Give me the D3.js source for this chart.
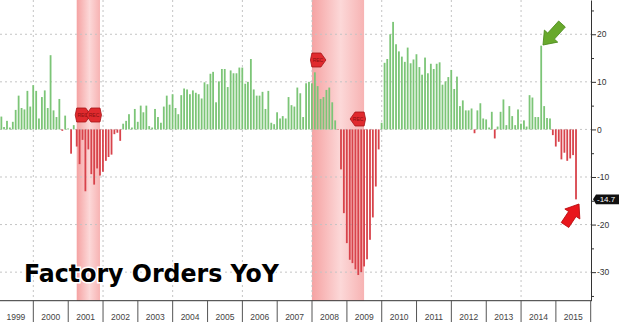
<!DOCTYPE html>
<html>
<head>
<meta charset="utf-8">
<script src="https://cdn.jsdelivr.net/npm/d3@7"></script>
<style>
body { margin: 0; background: #fff; }
svg { display: block; }
</style>
</head>
<body>
<script>
var width = 620, height = 322;

// factory orders, % change YoY, monthly from Jan 1999 to Jul 2015
var startYear = 1999;
var values = [
  2.7, 0.5, 1.8, 0.4, 1.6, 4.1, 7.1, 4.5, 4.2, 8.1, 4.8, 9.3,
  8.1, 2.3, 6.8, 8.2, 4.5, 15.6, 4.0, 2.6, 6.4, -0.3, 2.9, 0.2,
  -5.1, 0.9, -3.6, -7.3, -2.2, -13.0, -4.2, -9.4, -11.6, -8.2, -9.7, -8.9,
  -6.6, -5.8, -5.3, -1.0, -0.7, -2.4, 1.2, 1.8, 3.2, 0.4, 4.3, 1.6,
  5.0, 3.6, 5.0, 0.7, 0.4, 4.3, 2.6, 1.4, 4.8, 7.1, 5.2, 7.4,
  4.5, 3.2, 7.2, 8.6, 8.4, 7.4, 8.2, 7.7, 7.4, 6.5, 9.9, 9.5,
  11.7, 12.1, 5.7, 10.1, 12.7, 12.7, 8.9, 12.4, 11.8, 11.8, 13.0, 13.0,
  9.6, 10.0, 14.8, 8.4, 7.1, 7.1, 7.9, 4.3, 8.1, 1.4, 1.1, 3.6,
  2.3, 2.8, 2.3, 6.8, 5.1, 4.8, 8.8, 7.6, 2.6, 9.7, 10.0, 9.7,
  12.0, 9.1, 6.4, 6.8, 8.3, 8.8, 5.7, 1.9, -0.1, -8.4, -17.6, -23.9,
  -27.4, -28.1, -29.4, -30.6, -30.0, -28.8, -27.3, -23.2, -18.5, -12.0, -4.2, 1.4,
  14.0, 14.8, 20.0, 22.6, 17.9, 16.4, 15.3, 14.2, 17.2, 13.9, 14.7, 15.8,
  13.1, 11.5, 15.1, 11.8, 13.8, 12.7, 13.8, 14.1, 9.4, 10.1, 11.0, 12.5,
  8.5, 11.1, 4.9, 6.1, 4.0, 4.0, 4.4, -0.8, 4.0, 5.5, 2.3, 2.1,
  0.4, 3.7, -1.9, 0.6, 3.7, 6.3, 0.9, 4.9, 2.8, 0.9, 4.2, 1.2,
  1.9, 0.6, 7.2, 6.7, 2.6, 2.6, 17.6, 4.9, 2.4, 2.3, -1.2, -3.6,
  -2.6, -6.3, -4.9, -6.6, -6.1, -5.4, -14.7
];
var years = d3.range(1999, 2016);
var yTicks = [20, 10, 0, -10, -20, -30];
var yMinor = [25, 15, 5, -5, -15, -25, -35];
var recessions = [["2001-03-31", "2001-11-30"], ["2007-12-31", "2009-06-30"]];
var title = "Factory Orders YoY";

var parse = d3.timeParse("%Y-%m-%d");
var data = values.map(function(v, i) {
  return {date: new Date(startYear, i + 1, 0), value: v};
});
var last = data[data.length - 1];

var x = d3.scaleTime()
  .domain([new Date(1999, 0, 1), new Date(2016, 0, 1)])
  .range([-1.5, 590.7]);
var y = d3.scaleLinear().domain([-36, 27.2]).range([300.7, 0]);

var svg = d3.select("body").append("svg")
  .attr("width", width)
  .attr("height", height)
  .style("font-family", "'Liberation Sans', Arial, sans-serif");

var defs = svg.append("defs");
var grad = defs.append("linearGradient").attr("id", "rec")
  .attr("x1", "0%").attr("x2", "100%").attr("y1", "0%").attr("y2", "0%");
grad.append("stop").attr("offset", "0%").attr("stop-color", "#f5a2a2");
grad.append("stop").attr("offset", "55%").attr("stop-color", "#fcd8d8");
grad.append("stop").attr("offset", "100%").attr("stop-color", "#f7b3b3");

// recession shading
svg.append("g").selectAll("rect")
  .data(recessions)
  .enter().append("rect")
    .attr("x", function(d) { return x(parse(d[0])); })
    .attr("width", function(d) { return x(parse(d[1])) - x(parse(d[0])); })
    .attr("y", 0)
    .attr("height", y(-36))
    .attr("fill", "url(#rec)");

// grid
var grid = svg.append("g")
  .attr("stroke", "#c4c4c4")
  .attr("stroke-dasharray", "2,3");
grid.selectAll(".h")
  .data(yTicks)
  .enter().append("line")
    .attr("x1", 0).attr("x2", 591)
    .attr("y1", function(d) { return y(d); })
    .attr("y2", function(d) { return y(d); });
grid.selectAll(".v")
  .data(d3.range(2000, 2016, 2))
  .enter().append("line")
    .attr("x1", function(d) { return x(new Date(d, 0, 1)); })
    .attr("x2", function(d) { return x(new Date(d, 0, 1)); })
    .attr("y1", 0).attr("y2", y(-36));

// bars
svg.append("g").selectAll("rect")
  .data(data)
  .enter().append("rect")
    .attr("x", function(d) { return x(d.date) - 0.9; })
    .attr("width", 1.8)
    .attr("y", function(d) { return y(Math.max(0, d.value)); })
    .attr("height", function(d) { return Math.abs(y(d.value) - y(0)); })
    .attr("fill", function(d) { return d.value >= 0 ? "#7cc577" : "#d8434b"; });

// recession markers
function marker(xp, yp, dir) {
  var w = 14, h = 7, p = 5;
  var pts = [[0, -h], [w - p, -h], [w, 0], [w - p, h], [0, h], [-1.5, 0]];
  var g = svg.append("g").attr("transform", "translate(" + xp + "," + yp + ") scale(" + dir + ",1)");
  g.append("polygon")
    .attr("points", pts.map(function(q) { return q.join(","); }).join(" "))
    .attr("fill", "#e02a2e")
    .attr("stroke", "#a41418")
    .attr("stroke-width", 0.8);
  g.append("text")
    .attr("x", 6).attr("y", 1.8)
    .attr("text-anchor", "middle")
    .attr("font-size", 5)
    .attr("fill", "#8a1010")
    .attr("transform", "scale(" + dir + ",1)")
    .attr("x", 6 * dir)
    .text("REC");
}
marker(x(parse(recessions[0][0])), 115, 1);
marker(x(parse(recessions[0][1])), 115, -1);
marker(x(parse(recessions[1][0])), 60, 1);
marker(x(parse(recessions[1][1])), 119, -1);

// right axis
var yAxis = svg.append("g")
  .attr("transform", "translate(591,0)")
  .call(d3.axisRight(y).tickValues(yTicks).tickSize(5).tickSizeOuter(0)
    .tickFormat(function(d) { return String(d); }));
yAxis.selectAll("path, line").attr("stroke", "#333");
yAxis.selectAll("text").attr("font-size", 8.5).attr("fill", "#333")
  .attr("x", 6).attr("font-family", "'Liberation Sans', Arial, sans-serif");
var yMinorAxis = svg.append("g")
  .attr("transform", "translate(591,0)")
  .call(d3.axisRight(y).tickValues(yMinor).tickSize(3).tickSizeOuter(0).tickFormat(""));
yMinorAxis.select("path").remove();
yMinorAxis.selectAll("line").attr("stroke", "#333");

// bottom axis: year cells
var xAxis = svg.append("g")
  .attr("transform", "translate(0," + y(-36) + ")");
xAxis.append("line")
  .attr("x1", 0).attr("x2", 591)
  .attr("stroke", "#333");
xAxis.selectAll(".sep")
  .data(years.slice(1).concat([2016]))
  .enter().append("line")
    .attr("x1", function(d) { return x(new Date(d, 0, 1)); })
    .attr("x2", function(d) { return x(new Date(d, 0, 1)); })
    .attr("y1", 0).attr("y2", 22)
    .attr("stroke", "#555");
xAxis.selectAll("text")
  .data(years)
  .enter().append("text")
    .attr("x", function(d) { return (x(new Date(d, 0, 1)) + x(new Date(d + 1, 0, 1))) / 2; })
    .attr("y", 19)
    .attr("text-anchor", "middle")
    .attr("font-size", 8.5)
    .attr("fill", "#444")
    .text(function(d) { return d; });

// last value tag
var tag = svg.append("g")
  .attr("transform", "translate(593," + y(last.value) + ")");
tag.append("path")
  .attr("d", "M0,0 L3,-4.8 L26,-4.8 L26,4.8 L3,4.8 Z")
  .attr("fill", "#111");
tag.append("text")
  .attr("x", 4).attr("y", 3)
  .attr("font-size", 8)
  .attr("fill", "#fff")
  .text(String(last.value));

// arrows
function arrow(x1, y1, x2, y2, fill, dark) {
  var ang = Math.atan2(y2 - y1, x2 - x1) * 180 / Math.PI;
  var len = Math.hypot(x2 - x1, y2 - y1);
  var g = svg.append("g")
    .attr("transform", "translate(" + x2 + "," + y2 + ") rotate(" + ang + ")");
  var hl = 12, hw = 9, sw = 4.5;
  var pts = [[0, 0], [-hl, -hw], [-hl, -sw], [-len, -sw], [-len, sw], [-hl, sw], [-hl, hw]];
  g.append("polygon")
    .attr("points", pts.map(function(q) { return q.join(","); }).join(" "))
    .attr("fill", fill)
    .attr("stroke", dark)
    .attr("stroke-width", 0.8);
}
arrow(562, 24, 543, 45, "#68a92c", "#4c8a1c");
arrow(565, 225, 579, 204, "#e8161c", "#b80a0e");

// title
svg.append("text")
  .attr("x", 24).attr("y", 281.5)
  .attr("font-family", "'DejaVu Sans', Verdana, sans-serif")
  .attr("font-weight", "bold")
  .attr("font-size", 24)
  .attr("textLength", 255)
  .attr("lengthAdjust", "spacingAndGlyphs")
  .attr("fill", "#000")
  .attr("stroke", "#fff")
  .attr("stroke-width", 3)
  .attr("paint-order", "stroke")
  .text(title);
</script>
</body>
</html>
